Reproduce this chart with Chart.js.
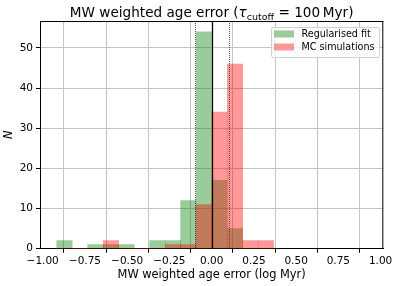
<!DOCTYPE html>
<html>
<head>
<meta charset="utf-8">
<script src="https://cdn.jsdelivr.net/npm/chart.js@4.4.0/dist/chart.umd.min.js"></script>
<style>
  html, body { margin: 0; padding: 0; background: #fff; }
</style>
</head>
<body>
<canvas id="ageErrChart" width="398" height="286"></canvas>
<script>
// histogram bins (centres, log Myr) - both series share the same binning
const binCenters = [-0.871, -0.779, -0.688, -0.596, -0.504, -0.413, -0.321, -0.229, -0.138, -0.046, 0.046, 0.138, 0.229, 0.321];
const regularisedCounts = [2, 0, 1, 1, 1, 0, 2, 2, 12, 54, 17, 5, 0, 0];
const mcCounts = [0, 0, 0, 2, 0, 0, 0, 1, 1, 11, 34, 46, 2, 2];
const xTicks = [-1, -0.75, -0.5, -0.25, 0, 0.25, 0.5, 0.75, 1];
const yTicks = [0, 10, 20, 30, 40, 50];
const refLines = [-0.1, 0, 0.1];

const FONT = '"DejaVu Sans", sans-serif';
const GREEN = 'rgba(0, 128, 0, 0.4)';
const RED = 'rgba(255, 0, 0, 0.4)';

function fmtTick(v) {
  return v.toFixed(2).replace('-', '\u2212');
}

// reference lines, top/right spines, title with subscript, boxed legend
const overlays = {
  id: 'overlays',
  afterDatasetsDraw(chart) {
    const { ctx, chartArea: { left, right, top, bottom }, scales: { x } } = chart;
    ctx.save();
    refLines.forEach(v => {
      const px = Math.round(x.getPixelForValue(v)) + 0.5;
      ctx.beginPath();
      if (v === 0) {
        ctx.setLineDash([]);
        ctx.lineWidth = 1.3;
        ctx.strokeStyle = '#000';
      } else {
        ctx.setLineDash([1, 1]);
        ctx.lineWidth = 0.8;
        ctx.strokeStyle = '#333';
      }
      ctx.moveTo(px, top);
      ctx.lineTo(px, bottom);
      ctx.stroke();
    });
    ctx.setLineDash([]);
    ctx.lineWidth = 1;
    ctx.strokeStyle = '#000';
    ctx.beginPath();
    ctx.moveTo(left, top + 0.5);
    ctx.lineTo(right, top + 0.5);
    ctx.moveTo(right - 0.5, top);
    ctx.lineTo(right - 0.5, bottom);
    ctx.stroke();
    ctx.restore();
  },
  afterDraw(chart) {
    const { ctx, chartArea: { left, right } } = chart;
    ctx.save();
    // title: MW weighted age error (τ_cutoff = 100 Myr)
    const parts = [
      { t: 'MW weighted age error (', size: 13.6, dy: 0 },
      { t: '\u03c4', size: 13.6, dy: 0, italic: true },
      { t: 'cutoff', size: 9.5, dy: 3 },
      { t: ' = 100\u2009Myr)', size: 13.6, dy: 0 }
    ];
    let total = 0;
    parts.forEach(p => {
      ctx.font = (p.italic ? 'italic ' : '') + p.size + 'px ' + FONT;
      p.w = ctx.measureText(p.t).width;
      total += p.w;
    });
    let tx = (left + right) / 2 - total / 2;
    ctx.fillStyle = '#000';
    ctx.textBaseline = 'alphabetic';
    ctx.textAlign = 'left';
    parts.forEach(p => {
      ctx.font = (p.italic ? 'italic ' : '') + p.size + 'px ' + FONT;
      ctx.fillText(p.t, tx, 17 + p.dy);
      tx += p.w;
    });

    // legend
    const bx = 271, by = 27, bw = 108, bh = 30;
    ctx.beginPath();
    ctx.roundRect(bx + 0.5, by + 0.5, bw, bh, 2);
    ctx.fillStyle = 'rgba(255,255,255,0.8)';
    ctx.fill();
    ctx.strokeStyle = '#d0d0d0';
    ctx.lineWidth = 1;
    ctx.stroke();
    const items = [
      { label: chart.data.datasets[0].label, color: GREEN, y: 34 },
      { label: chart.data.datasets[1].label, color: RED, y: 47 }
    ];
    ctx.font = '9.6px ' + FONT;
    ctx.textBaseline = 'middle';
    items.forEach(it => {
      ctx.fillStyle = it.color;
      ctx.fillRect(274, it.y - 3.5, 20, 7);
      ctx.fillStyle = '#000';
      ctx.fillText(it.label, 301.5, it.y);
    });
    ctx.restore();
  }
};

const ctx = document.getElementById('ageErrChart').getContext('2d');
const ageErrChart = new Chart(ctx, {
  type: 'bar',
  data: {
    datasets: [{
      label: 'Regularised fit',
      data: binCenters.map((c, i) => ({ x: c, y: regularisedCounts[i] })),
      backgroundColor: GREEN,
      borderWidth: 0,
      order: 1
    }, {
      label: 'MC simulations',
      data: binCenters.map((c, i) => ({ x: c, y: mcCounts[i] })),
      backgroundColor: RED,
      borderWidth: 0,
      order: 0 // drawn on top of the green one
    }]
  },
  options: {
    responsive: false,
    animation: false,
    devicePixelRatio: 1,
    grouped: false,
    barPercentage: 1,
    categoryPercentage: 1,
    layout: { padding: { top: 21, right: 14.7, bottom: 0, left: 0 } },
    scales: {
      x: {
        type: 'linear',
        min: -1.016,
        max: 1.016,
        offset: false,
        afterBuildTicks: s => { s.ticks = xTicks.map(v => ({ value: v })); },
        afterFit: s => { s.height = 37.3; },
        ticks: {
          autoSkip: false,
          maxRotation: 0,
          padding: 2,
          color: '#000',
          font: { family: FONT, size: 10.5 },
          callback: v => fmtTick(v)
        },
        grid: { color: '#c4c4c4', lineWidth: 1, tickColor: '#000', tickLength: 4 },
        border: { color: '#000', width: 1 },
        title: {
          display: true,
          text: 'MW weighted age error (log Myr)',
          color: '#000',
          font: { family: FONT, size: 11.4 },
          padding: { top: 0, bottom: 4 }
        }
      },
      y: {
        min: 0,
        max: 56.7,
        afterBuildTicks: s => { s.ticks = yTicks.map(v => ({ value: v })); },
        afterFit: s => { s.width = 40; },
        ticks: {
          padding: 3,
          color: '#000',
          font: { family: FONT, size: 10.5 }
        },
        grid: { color: '#c4c4c4', lineWidth: 1, tickColor: '#000', tickLength: 4 },
        border: { color: '#000', width: 1 },
        title: {
          display: true,
          text: 'N',
          color: '#000',
          font: { family: FONT, size: 11.4, style: 'italic' },
          padding: { top: 2, bottom: 0 }
        }
      }
    },
    plugins: {
      legend: { display: false },
      tooltip: { enabled: false },
      title: { display: false }
    }
  },
  plugins: [overlays]
});
</script>
</body>
</html>
